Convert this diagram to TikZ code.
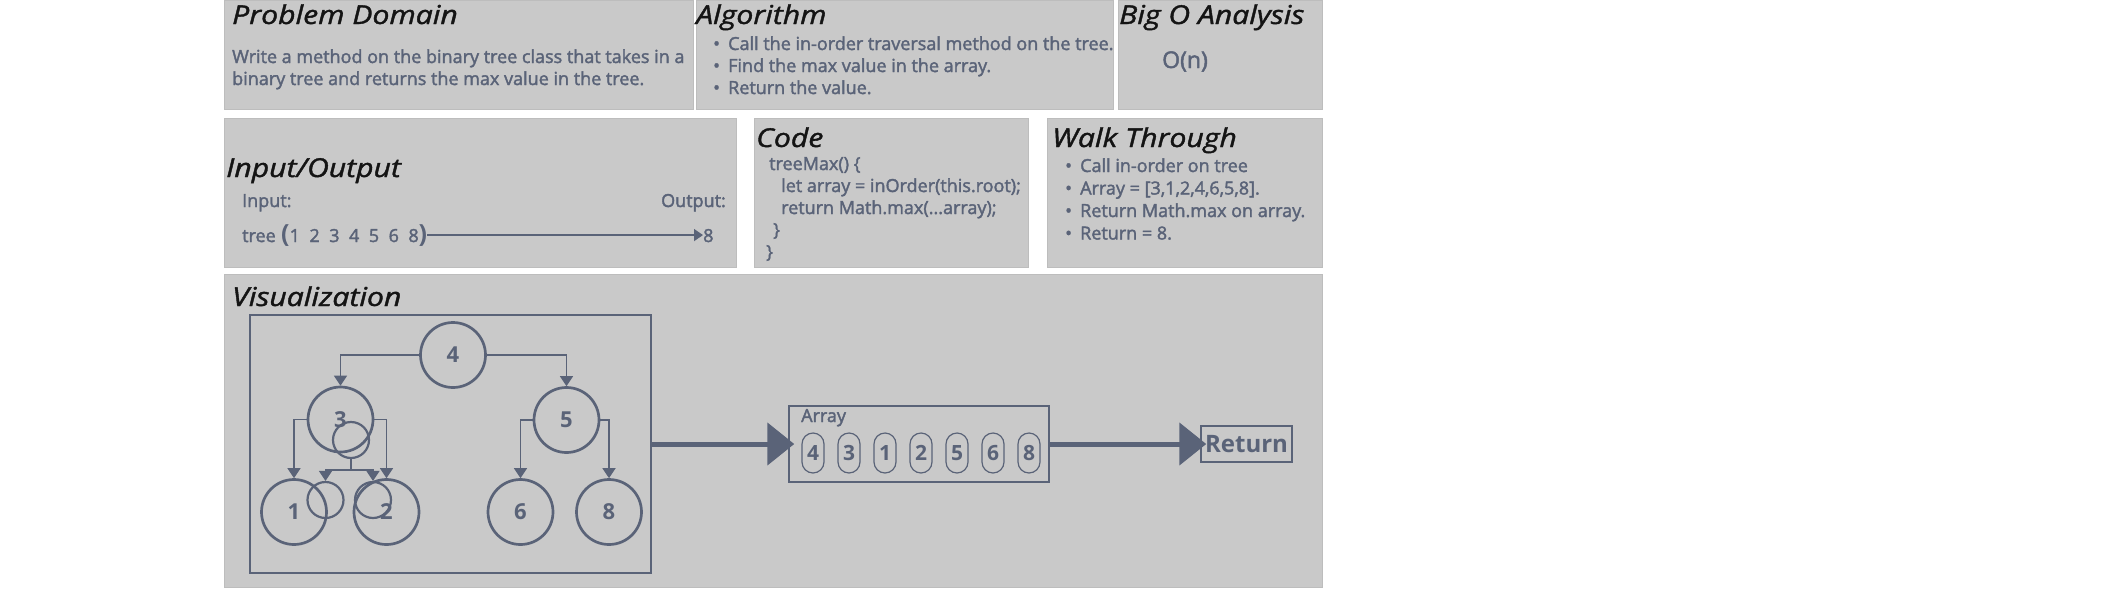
\documentclass[tikz,border=0pt]{standalone}
\usepackage{fontspec}
\setmainfont{Open Sans}[FakeBold=2]
\newfontfamily\titlefont{Open Sans}[FakeStretch=1.16,FakeBold=1.5]
\newfontfamily\heavyfont{Open Sans}
\usetikzlibrary{arrows.meta}

\definecolor{slate}{HTML}{5A6378}
\definecolor{panelgray}{HTML}{C9C9C9}
\definecolor{paneledge}{HTML}{BDBDBD}
\definecolor{titleblack}{HTML}{141414}

\newcommand\iogap{\hspace{9.5pt}}
\newcommand\bigparen[1]{{\heavyfont\bfseries\fontsize{25}{25}\selectfont #1}}

\tikzset{
  panel/.style={fill=panelgray, draw=paneledge, line width=1pt},
  title/.style={anchor=base west, inner sep=0pt, text=titleblack,
    font=\titlefont\itshape\fontsize{26}{26}\selectfont},
  body/.style={anchor=base west, inner sep=0pt, text=slate,
    font=\fontsize{18}{22}\selectfont},
  treenode/.style={circle, draw=slate, line width=2.7pt, minimum size=65pt,
    inner sep=0pt, text=slate, font=\heavyfont\bfseries\fontsize{22}{22}\selectfont},
  loopnode/.style={circle, draw=slate, line width=2.2pt, minimum size=36pt, inner sep=0pt},
  edge/.style={draw=slate, line width=1.7pt, -{Triangle[width=13pt,length=10pt]}},
  ioarrow/.style={draw=slate, line width=1.5pt, -{Triangle[width=12pt,length=9pt]}},
  bigedge/.style={draw=slate, line width=5pt, shorten >=-6pt,
    -{Triangle[width=42pt,length=27pt]}},
  framebox/.style={draw=slate, line width=1.5pt, inner sep=0pt},
  cell/.style={draw=slate, line width=1.2pt, rounded corners=11pt, minimum width=22pt,
    minimum height=40pt, inner sep=0pt, text=slate,
    font=\heavyfont\bfseries\fontsize{21}{21}\selectfont},
}

\begin{document}
\begin{tikzpicture}[x=1pt, y=-1pt]
  \useasboundingbox (0,0) rectangle (2115,590);
  \fill[white] (0,0) rectangle (2115,590);

  % Panels
  \filldraw[panel] (224,0) rectangle (693,109);
  \filldraw[panel] (696,0) rectangle (1113,109);
  \filldraw[panel] (1118,0) rectangle (1322,109);
  \filldraw[panel] (224,118) rectangle (736,267);
  \filldraw[panel] (754,118) rectangle (1028,267);
  \filldraw[panel] (1047,118) rectangle (1322,267);
  \filldraw[panel] (224,274) rectangle (1322,587);

  % Problem Domain
  \node[title] (pdTitle) at (232,24) {Problem Domain};
  \foreach \entry [count=\k] in {Write a method on the binary tree class that takes in a,
      binary tree and returns the max value in the tree.}
    \node[body] (pd\k) at (232,{41+22*\k}) {\entry};

  % Algorithm
  \node[title] (algoTitle) at (696,24) {Algorithm};
  \foreach \entry [count=\k] in {Call the in-order traversal method on the tree.,
      Find the max value in the array., Return the value.}{
    \node[body] (algo\k) at (728,{28+22*\k}) {\entry};
    \node[body] (algoDot\k) at (713,{28+22*\k}) {\textbullet};
  }

  % Big O Analysis
  \node[title] (bigoTitle) at (1119,24) {Big O Analysis};
  \node[body, font=\fontsize{23}{23}\selectfont] (bigo) at (1162,68) {O(n)};

  % Input/Output
  \node[title] (ioTitle) at (226,177) {Input/Output};
  \node[body] (inLabel) at (242,207) {Input:};
  \node[body, anchor=base east] (outLabel) at (726,207) {Output:};
  \node[body] (treeLabel) at (242,242) {tree};
  \node[body] (treeVals) at (281,242)
    {\bigparen{(}1\iogap 2\iogap 3\iogap 4\iogap 5\iogap 6\iogap 8\bigparen{)}};
  \node[body] (outVal) at (703,242) {8};
  \draw[ioarrow] (treeVals.east) -- (treeVals.east -| outVal.west);

  % Code
  \node[title] (codeTitle) at (756,147) {Code};
  \foreach \x/\src [count=\k] in {769/{treeMax() \{}, 781/{let array = inOrder(this.root);},
      781/{return Math.max(...array);}, 773/{\}}, 766/{\}}}
    \node[body] (code\k) at (\x,{148+22*\k}) {\src};

  % Walk Through
  \node[title] (walkTitle) at (1052,147) {Walk Through};
  \foreach \entry [count=\k] in {Call in-order on tree, {Array = [3,1,2,4,6,5,8].},
      Return Math.max on array., Return = 8.}{
    \node[body] (walk\k) at (1080,{149.5+22.5*\k}) {\entry};
    \node[body] (walkDot\k) at (1065,{149.5+22.5*\k}) {\textbullet};
  }

  % Visualization
  \node[title] (vizTitle) at (232,306) {Visualization};
  \node[framebox, minimum width=401pt, minimum height=258pt] (treeFrame) at (450.5,444) {};

  % Tree nodes
  \node[treenode] (N4) at (453,355) {4};
  \node[treenode] (N3) at (340.5,419.5) {3};
  \node[treenode] (N5) at (566.5,420) {5};
  \node[treenode] (N1) at (294,512) {1};
  \node[treenode] (N2) at (386.5,512) {2};
  \node[treenode] (N6) at (520.5,512) {6};
  \node[treenode] (N8) at (609,512) {8};
  \node[loopnode] (S3) at (351,440) {};
  \node[loopnode] (S1) at (325.5,500) {};
  \node[loopnode] (S2) at (373,500) {};
  \coordinate (J) at (351,470);

  % Connect the nodes
  \draw[edge] (N4.west) -| (N3.north);
  \draw[edge] (N4.east) -| (N5.north);
  \draw[edge] (N3.west) -| (N1.north);
  \draw[edge] (N3.east) -| (N2.north);
  \draw[edge] (N5.west) -| (N6.north);
  \draw[edge] (N5.east) -| (N8.north);
  \draw[draw=slate, line width=1.7pt] (S3.south) -- (J);
  \draw[edge] (J) -| (S1.north);
  \draw[edge] (J) -| (S2.north);

  % Array and return
  \node[framebox, minimum width=260pt, minimum height=76pt] (arrayBox) at (919,444) {};
  \node[body] (arrayLabel) at (801,422) {Array};
  \foreach \v [count=\k] in {4,3,1,2,5,6,8}
    \node[cell] (cell\k) at ({777+36*\k},453) {\v};
  \node[framebox, minimum width=91pt, minimum height=36pt, text=slate,
    font=\heavyfont\bfseries\fontsize{24}{24}\selectfont] (returnBox) at (1246.5,444) {Return};

  \draw[bigedge] (treeFrame.east) -- (arrayBox.west);
  \draw[bigedge] (arrayBox.east) -- (returnBox.west);
\end{tikzpicture}
\end{document}
